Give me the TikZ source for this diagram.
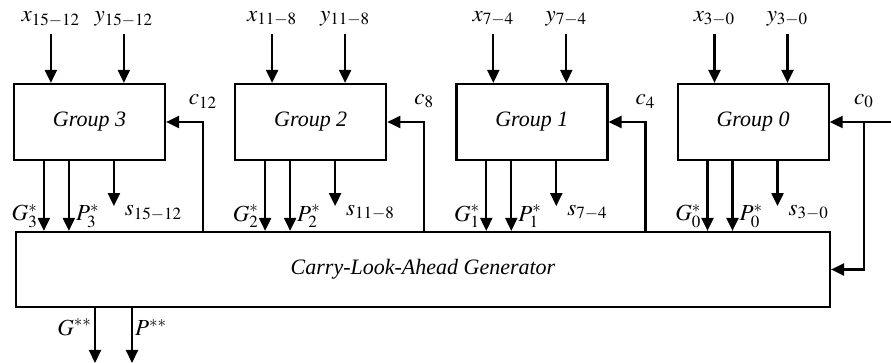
\documentclass[tikz,border=0pt]{standalone}
\usepackage{mathptmx}
\usepackage{fontspec}
\setmainfont{Liberation Serif}
\usetikzlibrary{arrows.meta,positioning,calc}

\begin{document}
\begin{tikzpicture}[x=0.5pt,y=-0.5pt,line width=1.1pt,node distance=4mm,
    font=\fontsize{11.5}{13}\selectfont,
    grp/.style={draw,minimum width=75.5pt,minimum height=38pt,
                font=\fontsize{11}{13}\selectfont\itshape},
    arr/.style={-{Triangle[length=6.5pt,width=6pt]}},
    lbl/.style={inner sep=1pt}]
  \useasboundingbox (0,0) rectangle (891,363);

  % groups and generator
  \node[grp] (g3) at (89.5,122) {Group 3};
  \node[grp,right=34pt of g3] (g2) {Group 2};
  \node[grp,right=34pt of g2] (g1) {Group 1};
  \node[grp,right=34pt of g1] (g0) {Group 0};
  \node[draw,minimum width=407pt,minimum height=37.5pt,
        font=\fontsize{11}{13}\selectfont\itshape] (cla) at (423,269.5)
    {Carry-Look-Ahead Generator};

  % operands in, G*, P* and sums out
  \foreach \g/\n/\hi/\lo in {g3/3/15/12,g2/2/11/8,g1/1/7/4,g0/0/3/0}{
    \node (x\g) at ($(\g.north west)+(38,-64)$) {$x_{\hi-\lo}$};
    \node (y\g) at ($(\g.north west)+(111,-64)$) {$y_{\hi-\lo}$};
    \draw[arr] (x\g) -- (x\g |- \g.north);
    \draw[arr] (y\g) -- (y\g |- \g.north);
    \coordinate (G\g) at ($(\g.south west)+(31,0)$);
    \coordinate (P\g) at ($(\g.south west)+(56,0)$);
    \coordinate (s\g) at ($(\g.south west)+(101,45)$);
    \draw[arr] (G\g) -- (G\g |- cla.north)
      node[pos=1,anchor=south east,lbl,xshift=-1.5pt] {$G_{\n}^{*}$};
    \draw[arr] (P\g) -- (P\g |- cla.north)
      node[pos=1,anchor=south west,lbl,xshift=2pt] {$P_{\n}^{*}$};
    \draw[arr] (s\g |- \g.south) -- (s\g)
      node[anchor=north west,lbl,xshift=4pt,yshift=2pt] {$s_{\hi-\lo}$};
  }

  % carries
  \foreach \g/\c in {g3/12,g2/8,g1/4}{
    \coordinate (c\g) at ($(\g.east)+(37,0)$);
    \draw[arr] (c\g |- cla.north) |- (\g.east);
    \node[above=3pt of c\g] (cl\g) {$c_{\c}$};
  }
  \coordinate (cin) at (891,122);
  \coordinate (cj) at (864,122);
  \draw[arr] (cin) -- (g0.east);
  \draw[arr] (cj) |- (cla.east);
  \node[above=3pt of cj] (clg0) {$c_{0}$};

  % group outputs
  \coordinate (Gout) at (95,363);
  \coordinate (Pout) at (132,363);
  \draw[arr] (Gout |- cla.south) -- (Gout) node[pos=0.35,left,lbl] {$G^{**}$};
  \draw[arr] (Pout |- cla.south) -- (Pout) node[pos=0.35,right,lbl] {$P^{**}$};
\end{tikzpicture}
\end{document}
